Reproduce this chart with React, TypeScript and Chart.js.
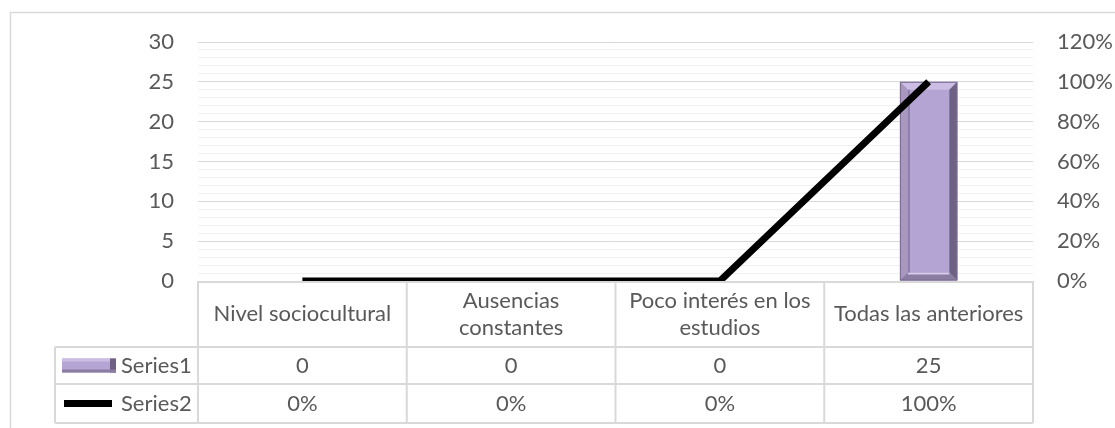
import React, { useEffect, useRef } from 'react';
import { Chart, registerables } from 'chart.js';

Chart.register(...registerables);

// ---------- data ----------
const categoryLines: string[][] = [
  ['Nivel sociocultural'],
  ['Ausencias', 'constantes'],
  ['Poco interés en los', 'estudios'],
  ['Todas las anteriores'],
];
const series1Name = 'Series1';
const series2Name = 'Series2';
const series1Values = [0, 0, 0, 25];
const series2Values = [0, 0, 0, 1];
const series1Labels = ['0', '0', '0', '25'];
const series2Labels = ['0%', '0%', '0%', '100%'];
const leftAxis = { min: 0, max: 30, major: 5, minor: 1 };
const rightAxis = { min: 0, max: 1.2, step: 0.2 };

// ---------- style ----------
const FONT_FAMILY = 'Lato, "Open Sans", sans-serif';
const FONT_SIZE = 22;
const TEXT = '#595959';
const BORDER = '#d9d9d9';
const BAR_FACE = '#b4a4d3';

const bevelPlugin = {
  id: 'bevel',
  afterDatasetDraw(chart: any, args: any) {
    if (args.index !== 0) return;
    const ctx = chart.ctx;
    const meta = chart.getDatasetMeta(0);
    meta.data.forEach((bar: any) => {
      const { x, y, base, width } = bar.getProps(['x', 'y', 'base', 'width'], true);
      const l = x - width / 2, r = x + width / 2, t = Math.min(y, base), b = Math.max(y, base);
      if (b - t < 2) return;
      const bw = 8;
      const poly = (pts: number[][], color: string) => {
        ctx.beginPath();
        ctx.moveTo(pts[0][0], pts[0][1]);
        for (let i = 1; i < pts.length; i++) ctx.lineTo(pts[i][0], pts[i][1]);
        ctx.closePath();
        ctx.fillStyle = color;
        ctx.fill();
      };
      ctx.save();
      poly([[l, t], [r, t], [r - bw, t + bw], [l + bw, t + bw]], '#cbbde4');
      poly([[l, t], [l + bw, t + bw], [l + bw, b - bw], [l, b]], '#a898c0');
      poly([[r, t], [r, b], [r - bw, b - bw], [r - bw, t + bw]], '#6f6184');
      poly([[l, b], [l + bw, b - bw], [r - bw, b - bw], [r, b]], '#8b7ca2');
      ctx.fillStyle = '#d6cbea';
      ctx.fillRect(l + bw, b - bw, width - 2 * bw, 2);
      ctx.fillStyle = '#8f7fa8';
      ctx.fillRect(l + bw, t + bw, 2, b - t - 2 * bw);
      ctx.strokeStyle = '#7a6c8e';
      ctx.lineWidth = 1;
      ctx.strokeRect(l + 0.5, t + 0.5, width - 1, b - t - 1);
      ctx.restore();
    });
  },
};

const tablePlugin = {
  id: 'dataTable',
  afterDatasetsDraw(chart: any) {
    const ctx = chart.ctx;
    const xs = chart.scales.x;
    const area = chart.chartArea;
    const n = categoryLines.length;
    const half = (xs.getPixelForValue(1) - xs.getPixelForValue(0)) / 2;
    const edges: number[] = [];
    for (let i = 0; i < n; i++) edges.push(xs.getPixelForValue(i) - half);
    edges.push(xs.getPixelForValue(n - 1) + half);
    const top = area.bottom;
    const r1 = top + 66;
    const r2 = r1 + 37;
    const r3 = r2 + 39;
    const legLeft = 55;
    ctx.save();
    // outer frame
    ctx.strokeStyle = BORDER;
    ctx.lineWidth = 1.5;
    ctx.beginPath();
    ctx.moveTo(10.5, chart.height + 5);
    ctx.lineTo(10.5, 12.5);
    ctx.lineTo(chart.width + 5, 12.5);
    ctx.stroke();
    // table grid
    ctx.lineWidth = 2;
    ctx.beginPath();
    ctx.moveTo(edges[0], top + 1);
    ctx.lineTo(edges[n], top + 1);
    ctx.moveTo(legLeft, r1);
    ctx.lineTo(edges[n], r1);
    ctx.moveTo(legLeft, r2);
    ctx.lineTo(edges[n], r2);
    ctx.moveTo(legLeft, r3);
    ctx.lineTo(edges[n], r3);
    ctx.moveTo(legLeft, r1);
    ctx.lineTo(legLeft, r3);
    for (let i = 0; i <= n; i++) {
      ctx.moveTo(edges[i], top);
      ctx.lineTo(edges[i], r3);
    }
    ctx.stroke();
    // text
    ctx.fillStyle = TEXT;
    ctx.font = `${FONT_SIZE}px ${FONT_FAMILY}`;
    ctx.textAlign = 'center';
    ctx.textBaseline = 'middle';
    const hc = (top + r1) / 2;
    const lh = 27;
    for (let i = 0; i < n; i++) {
      const cx = xs.getPixelForValue(i);
      const lines = categoryLines[i];
      lines.forEach((ln, k) => {
        ctx.fillText(ln, cx, hc + (k - (lines.length - 1) / 2) * lh);
      });
      ctx.fillText(series1Labels[i], cx, (r1 + r2) / 2);
      ctx.fillText(series2Labels[i], cx, (r2 + r3) / 2);
    }
    ctx.textAlign = 'left';
    ctx.fillText(series1Name, 121, (r1 + r2) / 2);
    ctx.fillText(series2Name, 121, (r2 + r3) / 2);
    // legend keys
    const ky = (r1 + r2) / 2;
    ctx.fillStyle = BAR_FACE;
    ctx.fillRect(62, ky - 7, 54, 14);
    ctx.fillStyle = '#cbbde4';
    ctx.fillRect(62, ky - 7, 54, 3);
    ctx.fillStyle = '#6f6184';
    ctx.fillRect(110, ky - 7, 6, 14);
    ctx.fillStyle = '#8b7ca2';
    ctx.fillRect(62, ky + 4, 54, 3);
    ctx.fillStyle = '#000';
    ctx.fillRect(64, (r2 + r3) / 2 - 3.5, 48, 7);
    ctx.restore();
  },
};

export default function App() {
  const ref = useRef<HTMLCanvasElement | null>(null);
  useEffect(() => {
    if (!ref.current) return;
    const chart = new Chart(ref.current, {
      type: 'bar',
      data: {
        labels: categoryLines.map((l) => l.join(' ')),
        datasets: [
          {
            type: 'bar',
            label: series1Name,
            data: series1Values,
            backgroundColor: BAR_FACE,
            borderWidth: 0,
            barPercentage: 0.275,
            categoryPercentage: 1,
            yAxisID: 'y',
            order: 2,
          } as any,
          {
            type: 'line',
            label: series2Name,
            data: series2Values,
            borderColor: '#000000',
            borderWidth: 7,
            pointRadius: 0,
            tension: 0,
            borderCapStyle: 'butt',
            borderJoinStyle: 'miter',
            yAxisID: 'y1',
            order: 1,
          } as any,
        ],
      },
      options: {
        responsive: false,
        animation: false,
        layout: { padding: { left: 0, right: 0, top: 42, bottom: 147 } },
        plugins: { legend: { display: false }, tooltip: { enabled: false } },
        scales: {
          x: { display: false, offset: true },
          y: {
            position: 'left',
            min: leftAxis.min,
            max: leftAxis.max,
            afterFit: (s: any) => { s.width = 198; },
            border: { display: false },
            grid: {
              drawTicks: false,
              color: (c: any) => (c.tick && c.tick.value % leftAxis.major === 0 ? '#d9d9d9' : '#f0f0f0'),
              lineWidth: 1,
            },
            ticks: {
              stepSize: leftAxis.minor,
              autoSkip: false,
              padding: 24,
              color: TEXT,
              font: { family: FONT_FAMILY, size: FONT_SIZE },
              callback: (v: any) => (Number(v) % leftAxis.major === 0 ? String(v) : ''),
            },
          },
          y1: {
            position: 'right',
            min: rightAxis.min,
            max: rightAxis.max,
            afterFit: (s: any) => { s.width = 82; },
            border: { display: false },
            grid: { display: false, drawTicks: false },
            ticks: {
              stepSize: rightAxis.step,
              padding: 24,
              color: TEXT,
              font: { family: FONT_FAMILY, size: FONT_SIZE },
              callback: (v: any) => `${Math.round(Number(v) * 100)}%`,
            },
          },
        },
      },
      plugins: [bevelPlugin, tablePlugin],
    });
    return () => chart.destroy();
  }, []);
  return (
    <div style={{ position: 'fixed', left: 0, top: 0, width: 1115, height: 428, background: '#fff' }}>
      <canvas ref={ref} width={1115} height={428} />
    </div>
  );
}
